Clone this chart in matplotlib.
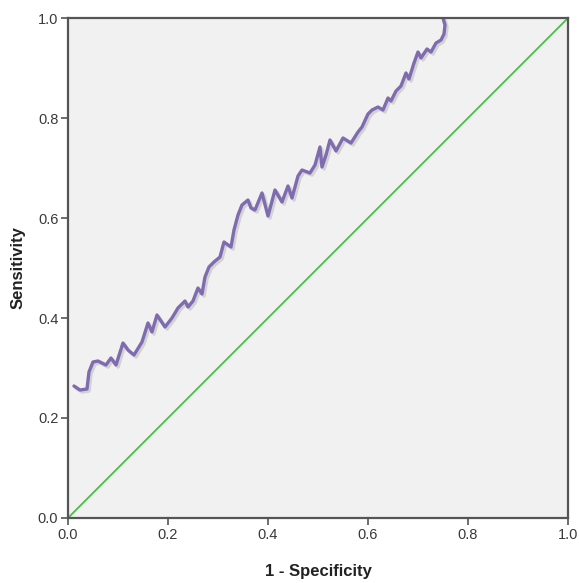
import matplotlib
matplotlib.use("Agg")
import matplotlib.pyplot as plt
import matplotlib.patheffects as pe

# ROC curve points
fpr = [0.012, 0.024, 0.038, 0.042, 0.050, 0.060, 0.076, 0.086, 0.096, 0.110,
       0.120, 0.132, 0.148, 0.160, 0.168, 0.178, 0.194, 0.208, 0.220, 0.234,
       0.240, 0.250, 0.260, 0.268, 0.274, 0.282, 0.292, 0.304, 0.312, 0.326,
       0.332, 0.340, 0.348, 0.360, 0.366, 0.374, 0.388, 0.400, 0.414, 0.428,
       0.440, 0.448, 0.460, 0.468, 0.484, 0.494, 0.504, 0.508, 0.516, 0.524,
       0.536, 0.550, 0.566, 0.580, 0.588, 0.600, 0.608, 0.620, 0.630, 0.640,
       0.646, 0.656, 0.666, 0.676, 0.682, 0.692, 0.700, 0.706, 0.718, 0.726,
       0.736, 0.746, 0.752, 0.754, 0.750]
tpr = [0.264, 0.256, 0.258, 0.292, 0.312, 0.314, 0.306, 0.320, 0.306, 0.350,
       0.336, 0.326, 0.352, 0.390, 0.372, 0.406, 0.382, 0.400, 0.420, 0.434,
       0.422, 0.434, 0.460, 0.448, 0.482, 0.502, 0.512, 0.522, 0.552, 0.542,
       0.576, 0.606, 0.626, 0.636, 0.620, 0.616, 0.650, 0.604, 0.656, 0.632,
       0.664, 0.640, 0.684, 0.696, 0.690, 0.706, 0.742, 0.702, 0.726, 0.756,
       0.734, 0.760, 0.750, 0.772, 0.782, 0.808, 0.816, 0.822, 0.816, 0.840,
       0.834, 0.854, 0.864, 0.890, 0.878, 0.910, 0.932, 0.920, 0.938, 0.932,
       0.950, 0.956, 0.968, 0.986, 1.000]
ref_line = [0.0, 1.0]
ticks = [0.0, 0.2, 0.4, 0.6, 0.8, 1.0]

plt.rcParams['font.family'] = ['Liberation Sans', 'DejaVu Sans']

fig = plt.figure(figsize=(5.79, 5.83), dpi=100)
ax = fig.add_axes([0.1174, 0.1115, 0.8636, 0.8576])
ax.set_facecolor('#f1f1f1')

ax.plot(ref_line, ref_line, color='#4dbb4d', linewidth=1.3)
ax.plot(fpr, tpr, color='#7f6cb0', linewidth=2.4, solid_joinstyle='round',
        solid_capstyle='round',
        path_effects=[pe.SimpleLineShadow(offset=(1.5, -1.5), shadow_color='#999999', alpha=0.35),
                      pe.Normal()])

ax.set_xlim(0, 1)
ax.set_ylim(0, 1)
ax.set_xticks(ticks)
ax.set_yticks(ticks)
ax.set_xticklabels([f"{t:.1f}" for t in ticks])
ax.set_yticklabels([f"{t:.1f}" for t in ticks])
ax.tick_params(direction='out', length=5, width=1.2, colors='#555555',
               labelcolor='#3a3a3a', labelsize=10.5, pad=2)
for s in ax.spines.values():
    s.set_color('#555555')
    s.set_linewidth(1.6)

ax.set_xlabel("1 - Specificity", fontsize=12, fontweight='bold', color='#222222', labelpad=16)
ax.set_ylabel("Sensitivity", fontsize=12, fontweight='bold', color='#222222', labelpad=9)

fig.savefig("out.png", dpi=100)
